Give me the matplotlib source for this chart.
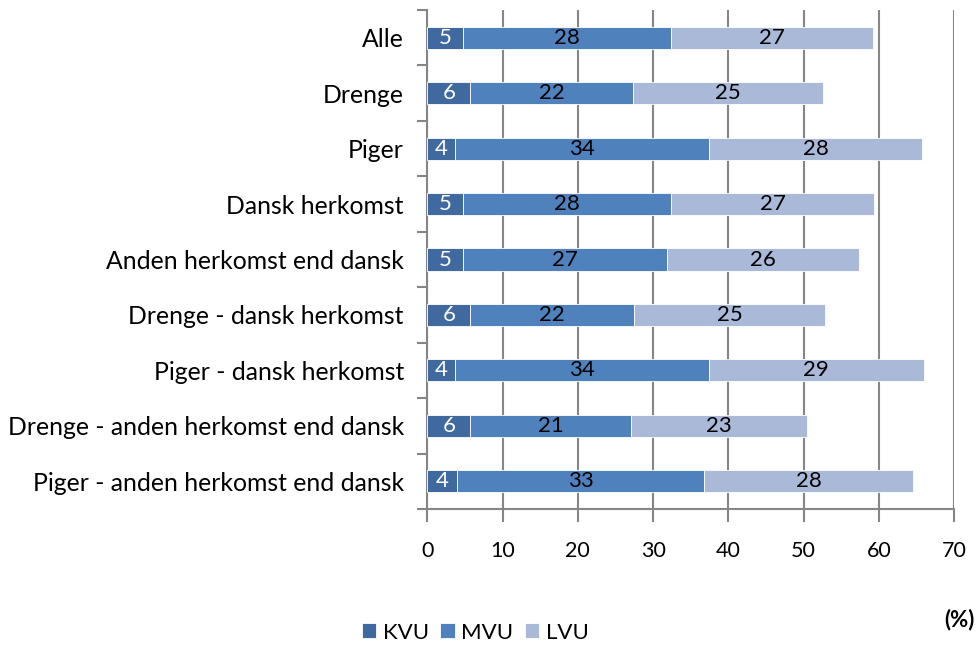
import matplotlib
matplotlib.use("Agg")
import matplotlib.pyplot as plt
import numpy as np

categories = ["Alle", "Drenge", "Piger", "Dansk herkomst", "Anden herkomst end dansk",
              "Drenge - dansk herkomst", "Piger - dansk herkomst",
              "Drenge - anden herkomst end dansk", "Piger - anden herkomst end dansk"]
kvu = [4.8, 5.7, 3.7, 4.8, 4.8, 5.7, 3.7, 5.7, 4.0]
mvu = [27.6, 21.6, 33.7, 27.6, 27.0, 21.8, 33.7, 21.4, 32.8]
lvu = [26.8, 25.3, 28.4, 27.0, 25.6, 25.4, 28.6, 23.3, 27.8]
series_names = ["KVU", "MVU", "LVU"]
colors = ["#40699F", "#4F81BD", "#AAB9D7"]
label_colors = ["white", "black", "black"]
xticks = [0, 10, 20, 30, 40, 50, 60, 70]

plt.rcParams['font.family'] = ['Lato', 'DejaVu Sans']

fig = plt.figure(figsize=(9.78, 6.68), dpi=100)
ax = fig.add_axes([0.437, 0.238, 0.5385, 0.747])

y = np.arange(len(categories))
left = np.zeros(len(categories))
for vals, name, c, lc in zip([kvu, mvu, lvu], series_names, colors, label_colors):
    vals = np.array(vals)
    ax.barh(y, vals, left=left, height=0.4, color=c, edgecolor="white",
            linewidth=0.6, label=name, zorder=3)
    for yi, l, v in zip(y, left, vals):
        ax.text(l + v / 2, yi, f"{round(v):d}", ha="center", va="center",
                color=lc, fontsize=16, zorder=4)
    left = left + vals

ax.set_ylim(len(categories) - 0.5, -0.5)
ax.set_xlim(0, 70)
ax.set_xticks(xticks)
ax.set_xticklabels([str(t) for t in xticks], fontsize=15.5)
ax.set_yticks(y)
ax.set_yticklabels(categories, fontsize=17.8)
ax.set_yticks(np.arange(-0.5, len(categories), 1), minor=True)
ax.tick_params(axis="y", which="major", length=0, pad=17)
ax.tick_params(axis="y", which="minor", length=7, width=1.5, color="#868686", direction="out")
ax.tick_params(axis="x", length=9, width=1.5, color="#868686", pad=14)

ax.grid(axis="x", color="#868686", linewidth=1.5, zorder=0)
for s in ["top", "right"]:
    ax.spines[s].set_visible(False)
for s in ["left", "bottom"]:
    ax.spines[s].set_color("#868686")
    ax.spines[s].set_linewidth(1.5)

fig.text(0.997, 0.072, "(%)", ha="right", va="center", fontsize=16, fontweight="bold")

fig.legend(loc="center", bbox_to_anchor=(0.486, 0.053), ncol=3, frameon=False,
           fontsize=16, handlelength=0.65, handleheight=0.65, handletextpad=0.3,
           columnspacing=0.5)

fig.savefig("out.png", dpi=100)
